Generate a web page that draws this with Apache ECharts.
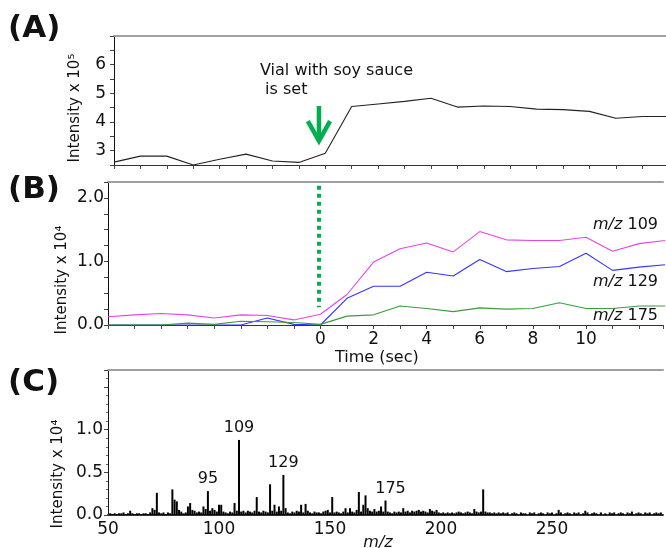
<!DOCTYPE html>
<html>
<head>
<meta charset="utf-8">
<script src="https://cdn.jsdelivr.net/npm/echarts@6/dist/echarts.min.js"></script>
<style>
html,body{margin:0;padding:0;background:#fff}
#main{width:666px;height:548px}
</style>
</head>
<body>
<div id="main"></div>
<script>
// (A) intensity x 10^5 vs time (sec)
const timeA = [-8,-7,-6,-5,-4,-3,-2,-1,0,1,2,3,4,5,6,7,8,9,10,11,12,13];
const totalA = [2.60,2.81,2.81,2.50,2.70,2.88,2.64,2.59,2.91,4.54,4.63,4.72,4.83,4.52,4.56,4.54,4.45,4.43,4.37,4.13,4.19,4.19];

// (B) intensity x 10^4, three ions
const timeB = [-8,-7,-6,-5,-4,-3,-2,-1,0,1,2,3,4,5,6,7,8,9,10,11,12,13];
const mz109 = [0.13,0.16,0.18,0.16,0.11,0.16,0.15,0.08,0.17,0.48,0.99,1.20,1.29,1.15,1.47,1.34,1.33,1.33,1.38,1.16,1.28,1.33];
const mz129 = [0,0,0,0,0,0,0.11,0.01,0,0.42,0.61,0.61,0.83,0.77,1.03,0.84,0.89,0.92,1.13,0.86,0.91,0.95];
const mz175 = [0,0,0,0.03,0.01,0.06,0.05,0.04,0.01,0.14,0.16,0.30,0.26,0.21,0.27,0.25,0.26,0.35,0.26,0.26,0.30,0.30];
const timeLabels = [0,2,4,6,8,10];

// (C) mass spectrum, intensity x 10^4
const peakMz = [60,70,72,79,80,81,82,86,87,93,95,97,100,101,107,109,117,123,125,127,129,130,137,139,151,157,159,163,165,166,167,173,175,183,195,198,215,219,253,265];
const peakInt = [0.05,0.08,0.26,0.30,0.18,0.16,0.06,0.10,0.14,0.10,0.28,0.08,0.12,0.12,0.14,0.88,0.21,0.36,0.12,0.10,0.47,0.08,0.12,0.13,0.21,0.08,0.08,0.27,0.12,0.23,0.08,0.10,0.17,0.08,0.07,0.06,0.07,0.30,0.06,0.05];
const labeledMz = [95,109,129,175];
const noise = [[51,.02],[52,.01],[53,.02],[54,.01],[55,.02],[56,.02],[57,.03],[58,.01],[59,.02],[61,.02],[62,.01],[63,.02],[64,.02],[65,.01],[66,.02],[67,.02],[68,.01],[69,.03],[71,.06],[73,.03],[74,.02],[75,.03],[76,.01],[77,.03],[78,.02],[83,.04],[84,.02],[85,.03],[88,.06],[89,.05],[90,.03],[91,.04],[92,.03],[94,.07],[96,.05],[98,.06],[99,.04],[102,.04],[103,.03],[104,.02],[105,.04],[106,.03],[108,.05],[110,.04],[111,.05],[112,.03],[113,.05],[114,.04],[115,.03],[116,.05],[118,.04],[119,.03],[120,.05],[121,.04],[122,.03],[124,.05],[126,.04],[128,.05],[131,.03],[132,.02],[133,.04],[134,.03],[135,.05],[136,.04],[138,.03],[140,.05],[141,.03],[142,.02],[143,.04],[144,.03],[145,.03],[146,.02],[147,.04],[148,.05],[149,.06],[150,.03],[152,.03],[153,.04],[154,.03],[155,.02],[156,.04],[158,.03],[160,.04],[161,.03],[162,.06],[164,.04],[168,.05],[169,.04],[170,.07],[171,.04],[172,.05],[174,.04],[176,.04],[177,.03],[178,.02],[179,.04],[180,.03],[181,.04],[182,.03],[184,.04],[185,.05],[186,.03],[187,.05],[188,.04],[189,.05],[190,.06],[191,.04],[192,.05],[193,.04],[194,.03],[196,.05],[197,.04],[199,.03],[200,.02],[201,.03],[202,.02],[203,.03],[204,.02],[205,.03],[206,.02],[207,.03],[208,.04],[209,.03],[210,.02],[211,.03],[212,.04],[213,.03],[214,.02],[216,.04],[217,.03],[218,.04],[220,.04],[221,.03],[222,.03],[223,.02],[224,.03],[225,.02],[226,.03],[227,.02],[228,.03],[229,.02],[230,.03],[232,.02],[233,.03],[234,.02],[236,.03],[237,.02],[238,.02],[240,.03],[241,.02],[242,.03],[244,.02],[245,.03],[246,.02],[248,.03],[249,.02],[250,.03],[252,.02],[254,.03],[256,.02],[257,.03],[258,.02],[260,.03],[261,.02],[262,.03],[264,.02],[266,.03],[268,.02],[269,.03],[270,.02],[272,.03],[274,.02],[276,.03],[277,.02],[278,.03],[280,.02],[281,.03],[282,.02],[284,.03],[285,.02],[286,.04],[288,.02],[289,.03],[290,.02],[292,.03],[293,.02],[294,.03],[296,.02],[297,.03],[298,.02],[299,.03]];

const FONT = 'DejaVu Sans';
const GREEN = '#00b050';

const chart = echarts.init(document.getElementById('main'));

function bottomX(grid, min, max, interval, labelFn, tick) {
  return {
    gridIndex: grid, type: 'value', min: min, max: max, interval: interval,
    axisLine: {onZero: false, lineStyle: {color: '#333', width: grid == 2 ? 2 : 1}},
    axisTick: {show: tick, length: 4, lineStyle: {color: '#444'}},
    axisLabel: {show: !!labelFn, formatter: labelFn, fontFamily: FONT, fontSize: 17, color: '#111', margin: 6},
    splitLine: {show: false}
  };
}
function topBorder(grid, min, max) {//灰色上边框
  return {
    gridIndex: grid, type: 'value', position: 'top', min: min, max: max,
    axisLine: {onZero: false, lineStyle: {color: '#a0a0a0', width: 2}},
    axisTick: {show: false}, axisLabel: {show: false}, splitLine: {show: false}
  };
}
function leftY(grid, min, max, interval, labelFn, margin) {
  return {
    gridIndex: grid, type: 'value', min: min, max: max, interval: interval,
    axisLine: {show: true, onZero: false, lineStyle: {color: '#111', width: 1}},
    axisTick: {show: true, length: 4, lineStyle: {color: '#444'}},
    minorTick: {show: grid == 2, splitNumber: 5, length: 2, lineStyle: {color: '#666'}},
    axisLabel: {formatter: labelFn, fontFamily: FONT, fontSize: 17, color: '#111', margin: margin},
    splitLine: {show: false}
  };
}

const specData = [];
peakMz.forEach((m, i) => {
  const item = {value: [m, peakInt[i]]};
  if (labeledMz.indexOf(m) >= 0) {
    item.label = {show: true, position: 'top', distance: 4, formatter: String(m),
      fontFamily: FONT, fontSize: 16, color: '#111', offset: m == 175 ? [5, 0] : [0, 0]};
  }
  specData.push(item);
});
noise.forEach(p => specData.push({value: p}));

const option = {
  animation: false,
  grid: [
    {left: 114, top: 36, right: 0, height: 129},
    {left: 108, top: 182, right: 0, height: 143},
    {left: 108, top: 370, right: 0, height: 145}
  ],
  xAxis: [
    bottomX(0, -8, 12.9, 1, null, true),
    topBorder(0, -8, 12.9),
    bottomX(1, -8, 12.9, 1, v => timeLabels.indexOf(v) >= 0 ? String(v) : '', true),
    topBorder(1, -8, 12.9),
    bottomX(2, 50, 300, 50, v => v < 300 ? String(v) : '', false),
    topBorder(2, 50, 300)
  ],
  yAxis: [
    leftY(0, 2.5, 7, 0.5, v => (Number.isInteger(v) && v < 7) ? String(v) : '', 8),
    leftY(1, 0, 2.25, 0.25, v => (Number.isInteger(v) && v <= 2) ? v.toFixed(1) : '', 4),
    leftY(2, 0, 1.7, 0.5, v => v <= 1 ? v.toFixed(1) : '', 5)
  ],
  series: [
    {
      type: 'line', xAxisIndex: 0, yAxisIndex: 0, showSymbol: false,
      lineStyle: {color: '#222', width: 1.1},
      data: timeA.map((t, i) => [t, totalA[i]])
    },
    {
      type: 'line', xAxisIndex: 2, yAxisIndex: 1, showSymbol: false,
      lineStyle: {color: '#e645e6', width: 1.1},
      data: timeB.map((t, i) => [t, mz109[i]]),
      markLine: {
        silent: true, symbol: 'none', label: {show: false},
        lineStyle: {color: GREEN, width: 4, type: [4, 4]},
        data: [[{coord: [-0.06, 2.19]}, {coord: [-0.06, 0.28]}]]
      }
    },
    {
      type: 'line', xAxisIndex: 2, yAxisIndex: 1, showSymbol: false,
      lineStyle: {color: '#3535ff', width: 1.1},
      data: timeB.map((t, i) => [t, mz129[i]])
    },
    {
      type: 'line', xAxisIndex: 2, yAxisIndex: 1, showSymbol: false,
      lineStyle: {color: '#3c9c3c', width: 1.1},
      data: timeB.map((t, i) => [t, mz175[i]])
    },
    {
      type: 'bar', xAxisIndex: 4, yAxisIndex: 2, barWidth: 2,
      itemStyle: {color: '#000'},
      data: specData
    }
  ]
};
chart.setOption(option);

// 图注文字和绿色箭头
function txt(x, y, text, extra) {
  return {
    type: 'text', x: x, y: y,
    style: Object.assign({text: text, fontFamily: FONT, fontSize: 16, fill: '#111', textVerticalAlign: 'middle'}, extra || {})
  };
}
function ytitle(x, y, text) {
  const t = txt(x, y, text, {fontSize: 15, textAlign: 'center'});
  t.rotation = Math.PI / 2;
  return t;
}
const mzRich = {i: {fontStyle: 'italic', fontFamily: FONT, fontSize: 16, fill: '#111'}, n: {fontFamily: FONT, fontSize: 16, fill: '#111'}};

const px = (x, y) => chart.convertToPixel({gridIndex: 0}, [x, y]);
const arrowTop = px(-0.24, 4.56), arrowTip = px(-0.24, 3.34), arrowL = px(-0.66, 4.03), arrowR = px(0.18, 4.03);

chart.setOption({
  graphic: [
    txt(8, 29, '(A)', {fontSize: 31, fontWeight: 'bold'}),
    txt(8, 190, '(B)', {fontSize: 31, fontWeight: 'bold'}),
    txt(8, 383, '(C)', {fontSize: 31, fontWeight: 'bold'}),
    ytitle(75, 108, 'Intensity x 10\u2075'),
    ytitle(62, 280, 'Intensity x 10\u2074'),
    ytitle(58, 474, 'Intensity x 10\u2074'),
    txt(260, 71, 'Vial with soy sauce'),
    txt(260, 90, ' is set'),
    txt(335, 358, 'Time (sec)'),
    txt(378, 543, 'm/z', {textAlign: 'center', fontStyle: 'italic'}),
    txt(593, 225, '{i|m/z} {n|109}', {rich: mzRich}),
    txt(593, 282, '{i|m/z} {n|129}', {rich: mzRich}),
    txt(593, 316, '{i|m/z} {n|175}', {rich: mzRich}),
    {type: 'line', shape: {x1: arrowTop[0], y1: arrowTop[1], x2: arrowTip[0], y2: arrowTip[1] - 2}, style: {stroke: GREEN, lineWidth: 4.5}},
    {type: 'polyline', shape: {points: [arrowL, arrowTip, arrowR]}, style: {stroke: GREEN, lineWidth: 4.5, fill: null}}
  ]
});
</script>
</body>
</html>
